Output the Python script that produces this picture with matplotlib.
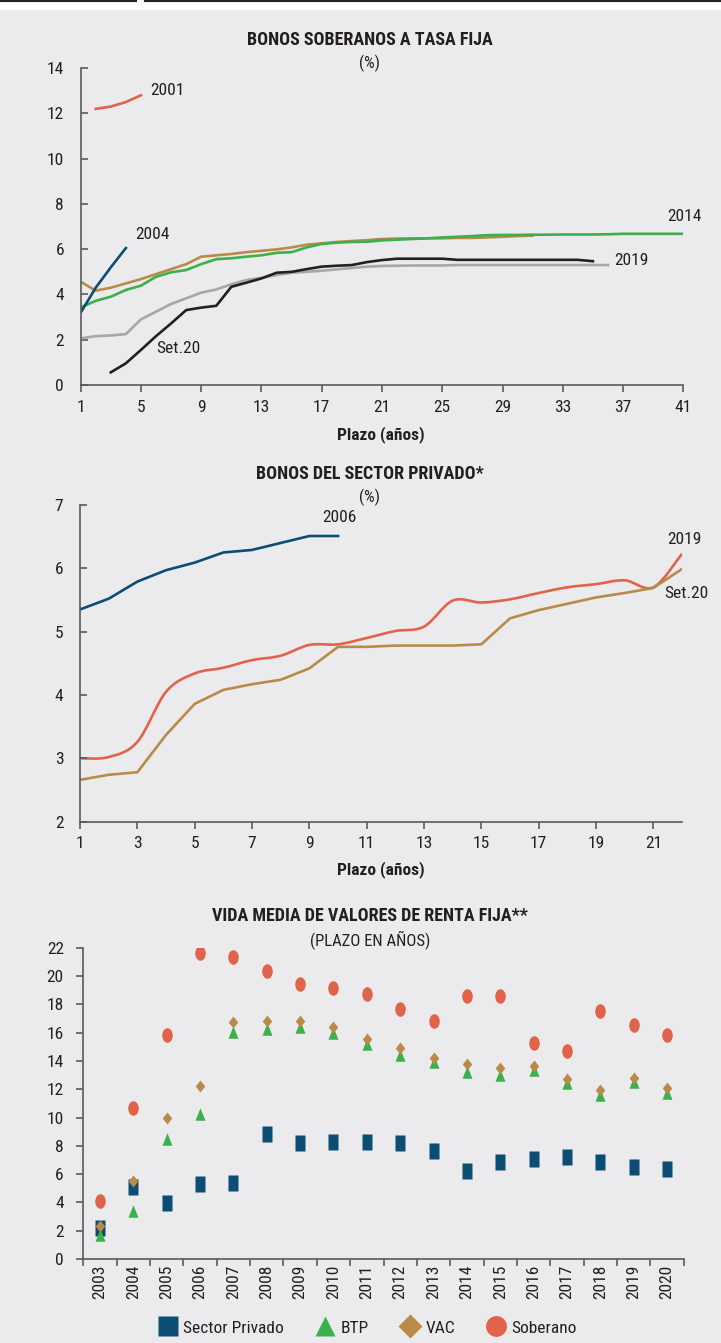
import matplotlib
matplotlib.use("Agg")
import matplotlib.pyplot as plt
import numpy as np
from matplotlib import font_manager
from matplotlib.path import Path
from matplotlib.patches import PathPatch, Rectangle
from matplotlib.lines import Line2D
from matplotlib.transforms import Affine2D

# narrow sans if available, otherwise plain Roboto
installed = {f.name for f in font_manager.fontManager.ttflist}
fam = "Roboto"
for name in ["Roboto Condensed", "Liberation Sans Narrow", "DejaVu Sans Condensed"]:
    if name in installed:
        fam = name
        break
plt.rcParams["font.family"] = [fam, "DejaVu Sans"]
plt.rcParams["font.stretch"] = "condensed"

TXT = "#231f20"
BG = "#ebebed"
SPINE = "#5a5a5a"
RED = "#e0634a"
BLUE = "#0b4d73"
GREEN = "#3cb04a"
BROWN = "#b98a48"
GRAY = "#a7a7a7"
BLACK = "#231f20"

# ---- Bonos soberanos a tasa fija (%) ----
sob_2001_x = [2, 3, 4, 5]
sob_2001 = [12.2, 12.3, 12.5, 12.8]
sob_2004_x = [1, 2, 3, 4]
sob_2004 = [3.2, 4.3, 5.2, 6.05]
sob_2014_x = list(range(1, 42))
sob_2014 = [3.43, 3.72, 3.9, 4.2, 4.39, 4.78, 4.98, 5.08, 5.34, 5.56,
            5.6, 5.67, 5.73, 5.84, 5.87, 6.08, 6.23, 6.29, 6.32, 6.33,
            6.39, 6.42, 6.45, 6.48, 6.52, 6.55, 6.58, 6.62, 6.63, 6.63,
            6.64, 6.64, 6.65, 6.65, 6.65, 6.66, 6.68, 6.68, 6.68, 6.68, 6.68]
sob_tan_x = list(range(1, 32))
sob_tan = [4.56, 4.17, 4.3, 4.49, 4.68, 4.9, 5.12, 5.34, 5.67, 5.73,
           5.79, 5.87, 5.93, 5.99, 6.08, 6.2, 6.26, 6.32, 6.36, 6.4,
           6.45, 6.47, 6.48, 6.48, 6.48, 6.5, 6.5, 6.52, 6.55, 6.58, 6.6]
sob_2019_x = list(range(1, 37))
sob_2019 = [2.06, 2.16, 2.19, 2.25, 2.9, 3.24, 3.58, 3.83, 4.08, 4.22,
            4.45, 4.64, 4.73, 4.86, 4.96, 5.0, 5.05, 5.11, 5.17, 5.23,
            5.26, 5.27, 5.28, 5.28, 5.28, 5.3, 5.3, 5.3, 5.3, 5.3,
            5.3, 5.3, 5.3, 5.3, 5.3, 5.3]
sob_set20_x = list(range(3, 36))
sob_set20 = [0.56, 0.96, 1.55, 2.16, 2.72, 3.31, 3.42, 3.5,
             4.34, 4.52, 4.71, 4.96, 5.0, 5.12, 5.23, 5.27, 5.3, 5.43,
             5.52, 5.58, 5.58, 5.58, 5.58, 5.53, 5.53, 5.53, 5.53, 5.53,
             5.53, 5.53, 5.53, 5.53, 5.47]

# ---- Bonos del sector privado (%) ----
priv_2006_x = list(range(1, 11))
priv_2006 = [5.35, 5.52, 5.79, 5.97, 6.09, 6.25, 6.29, 6.4, 6.51, 6.51]
priv_x = list(range(1, 23))
priv_2019 = [3.0, 3.02, 3.26, 4.05, 4.34, 4.43, 4.55, 4.62, 4.79, 4.8,
             4.9, 5.01, 5.08, 5.49, 5.46, 5.51, 5.61, 5.7, 5.75, 5.81,
             5.7, 6.23]
priv_set20 = [2.66, 2.74, 2.78, 3.37, 3.86, 4.08, 4.17, 4.24, 4.42, 4.76,
              4.76, 4.78, 4.78, 4.78, 4.8, 5.21, 5.34, 5.44, 5.54, 5.61,
              5.69, 5.99]

# ---- Vida media de valores de renta fija (años) ----
years = [str(y) for y in range(2003, 2021)]
vm_privado = [2.21, 5.11, 3.93, 5.28, 5.39, 8.81, 8.18, 8.29, 8.24, 8.18,
              7.61, 6.2, 6.83, 7.09, 7.19, 6.83, 6.48, 6.34]
vm_btp = [1.7, 3.42, 8.46, 10.23, 16.07, 16.23, 16.37, 15.99, 15.17, 14.42,
          13.9, 13.24, 13.0, 13.36, 12.42, 11.59, 12.53, 11.75]
vm_vac = [2.35, 5.51, 9.94, 12.23, 16.77, 16.8, 16.82, 16.42, 15.55, 14.89,
          14.23, 13.76, 13.48, 13.64, 12.7, 11.94, 12.81, 12.11]
vm_soberano = [4.12, 10.65, 15.83, 21.6, 21.32, 20.38, 19.43, 19.17, 18.73, 17.67,
               16.84, 18.61, 18.61, 15.24, 14.68, 17.5, 16.54, 15.83]


def smooth_path(xs, ys, k=1 / 6):
    # cubic bezier through the points (catmull-rom style handles)
    pts = np.column_stack([xs, ys]).astype(float)
    n = len(pts)
    verts = [pts[0]]
    codes = [Path.MOVETO]
    for i in range(n - 1):
        p0 = pts[max(i - 1, 0)]
        p1 = pts[i]
        p2 = pts[i + 1]
        p3 = pts[min(i + 2, n - 1)]
        verts += [p1 + (p2 - p0) * k, p2 - (p3 - p1) * k, p2]
        codes += [Path.CURVE4] * 3
    return Path(verts, codes)


def style_axes(ax, tickdir, ypad):
    ax.set_facecolor(BG)
    for s in ["top", "right"]:
        ax.spines[s].set_visible(False)
    for s in ["left", "bottom"]:
        ax.spines[s].set_color(SPINE)
        ax.spines[s].set_linewidth(1.2)
    ax.tick_params(axis="y", direction=tickdir, length=5, width=1.2, color=SPINE,
                   labelsize=12.5, labelcolor=TXT, pad=ypad)
    ax.tick_params(axis="x", direction="out", length=5, width=1.2, color=SPINE,
                   labelsize=12.5, labelcolor=TXT, pad=5.5)


fig = plt.figure(figsize=(7.21, 13.43), dpi=100)
fig.patch.set_facecolor(BG)

# header strip
fig.add_artist(Rectangle((0, 1 - 10 / 1343), 1, 10 / 1343, transform=fig.transFigure,
                         facecolor="white", edgecolor="none"))
fig.add_artist(Line2D([0, 136 / 721], [1 - 1 / 1343] * 2, transform=fig.transFigure,
                      color=BLACK, lw=1.5))
fig.add_artist(Line2D([145 / 721, 1], [1 - 1 / 1343] * 2, transform=fig.transFigure,
                      color=BLACK, lw=1.5))

lw = 1.9

# top panel
ax1 = fig.add_axes([0.1119, 0.7133, 0.8358, 0.2360])
style_axes(ax1, "in", 12)
ax1.plot(sob_2019_x, sob_2019, color=GRAY, lw=lw)
ax1.plot(sob_set20_x, sob_set20, color=BLACK, lw=lw)
ax1.plot(sob_tan_x, sob_tan, color=BROWN, lw=lw)
ax1.plot(sob_2014_x, sob_2014, color=GREEN, lw=lw)
ax1.plot(sob_2004_x, sob_2004, color=BLUE, lw=lw)
ax1.plot(sob_2001_x, sob_2001, color=RED, lw=lw)
ax1.set_xlim(1, 41)
ax1.set_ylim(0, 14)
ax1.set_xticks(range(1, 42, 4))
ax1.set_yticks(range(0, 15, 2))
lab = dict(fontsize=12.5, color=TXT, va="center", ha="left", clip_on=False)
ax1.text(5.6, 13.03, "2001", **lab)
ax1.text(4.6, 6.67, "2004", **lab)
ax1.text(39.95, 7.46, "2014", **lab)
ax1.text(36.4, 5.52, "2019", **lab)
ax1.text(6.0, 1.63, "Set.20", **lab)

# middle panel
ax2 = fig.add_axes([0.111, 0.3882, 0.835, 0.2358])
style_axes(ax2, "in", 12)
ax2.plot(priv_2006_x, priv_2006, color=BLUE, lw=lw)
ax2.plot(priv_x, priv_set20, color=BROWN, lw=lw)
ax2.add_patch(PathPatch(smooth_path(priv_x, priv_2019), fill=False,
                        edgecolor=RED, lw=lw))
ax2.set_xlim(1, 22)
ax2.set_ylim(2, 7)
ax2.set_xticks(range(1, 22, 2))
ax2.set_yticks(range(2, 8))
ax2.text(9.44, 6.8, "2006", **lab)
ax2.text(21.47, 6.45, "2019", **lab)
ax2.text(21.37, 5.61, "Set.20", **lab)

# bottom panel
ax3 = fig.add_axes([0.1155, 0.0625, 0.8329, 0.2318])
style_axes(ax3, "out", 9)
xpos = np.arange(len(years))
rect = [(-0.33, -0.5), (0.33, -0.5), (0.33, 0.5), (-0.33, 0.5), (-0.33, -0.5)]
tri = [(0, 0.5), (-0.4, -0.5), (0.4, -0.5), (0, 0.5)]
dia = [(0, 0.5), (0.4, 0), (0, -0.5), (-0.4, 0), (0, 0.5)]
ell = Affine2D().scale(0.72, 1.0).transform_path(Path.unit_circle())
ax3.plot(xpos, vm_privado, ls="none", marker=rect, ms=11, color=BLUE, mec="none")
ax3.plot(xpos, vm_btp, ls="none", marker=tri, ms=9, color=GREEN, mec="none")
ax3.plot(xpos, vm_vac, ls="none", marker=dia, ms=8.6, color=BROWN, mec="none")
ax3.plot(xpos, vm_soberano, ls="none", marker=ell, ms=10.5, color=RED, mec="none")
ax3.set_xlim(-0.5, len(years) - 0.5)
ax3.set_ylim(0, 22)
ax3.set_yticks(range(0, 23, 2))
ax3.set_xticks(np.arange(len(years) + 1) - 0.5)
ax3.set_xticklabels([])
ax3.set_xticks(xpos, minor=True)
ax3.set_xticklabels(years, minor=True, rotation=90)
ax3.tick_params(axis="x", which="minor", length=0, labelsize=12.5, labelcolor=TXT, pad=4)

handles = [
    Line2D([], [], ls="none", marker="s", ms=14, color=BLUE, mec="none"),
    Line2D([], [], ls="none", marker="^", ms=15, color=GREEN, mec="none"),
    Line2D([], [], ls="none", marker="D", ms=12, color=BROWN, mec="none"),
    Line2D([], [], ls="none", marker="o", ms=15, color=RED, mec="none"),
]
fig.legend(handles, ["Sector Privado", "BTP", "VAC", "Soberano"], loc="center",
           bbox_to_anchor=(0.509, 0.0112), ncol=4, frameon=False, fontsize=12.5,
           handletextpad=0.3, columnspacing=1.75, handlelength=1.2, labelcolor=TXT)

# titles
tkw = dict(ha="center", va="center", color=TXT)
fig.text(370 / 721, 1 - 40 / 1343, "BONOS SOBERANOS A TASA FIJA", fontsize=13,
         fontweight="bold", **tkw)
fig.text(370 / 721, 1 - 63 / 1343, "(%)", fontsize=12, **tkw)
fig.text(381 / 721, 1 - 435 / 1343, "Plazo (años)", fontsize=12.5, fontweight="bold", **tkw)
fig.text(370 / 721, 1 - 474 / 1343, "BONOS DEL SECTOR PRIVADO*", fontsize=13,
         fontweight="bold", **tkw)
fig.text(370 / 721, 1 - 497 / 1343, "(%)", fontsize=12, **tkw)
fig.text(381 / 721, 1 - 870 / 1343, "Plazo (años)", fontsize=12.5, fontweight="bold", **tkw)
fig.text(370 / 721, 1 - 916 / 1343, "VIDA MEDIA DE VALORES DE RENTA FIJA**", fontsize=13,
         fontweight="bold", **tkw)
fig.text(370 / 721, 1 - 941 / 1343, "(PLAZO EN AÑOS)", fontsize=12, **tkw)

fig.savefig("out.png", dpi=100, facecolor=BG)
